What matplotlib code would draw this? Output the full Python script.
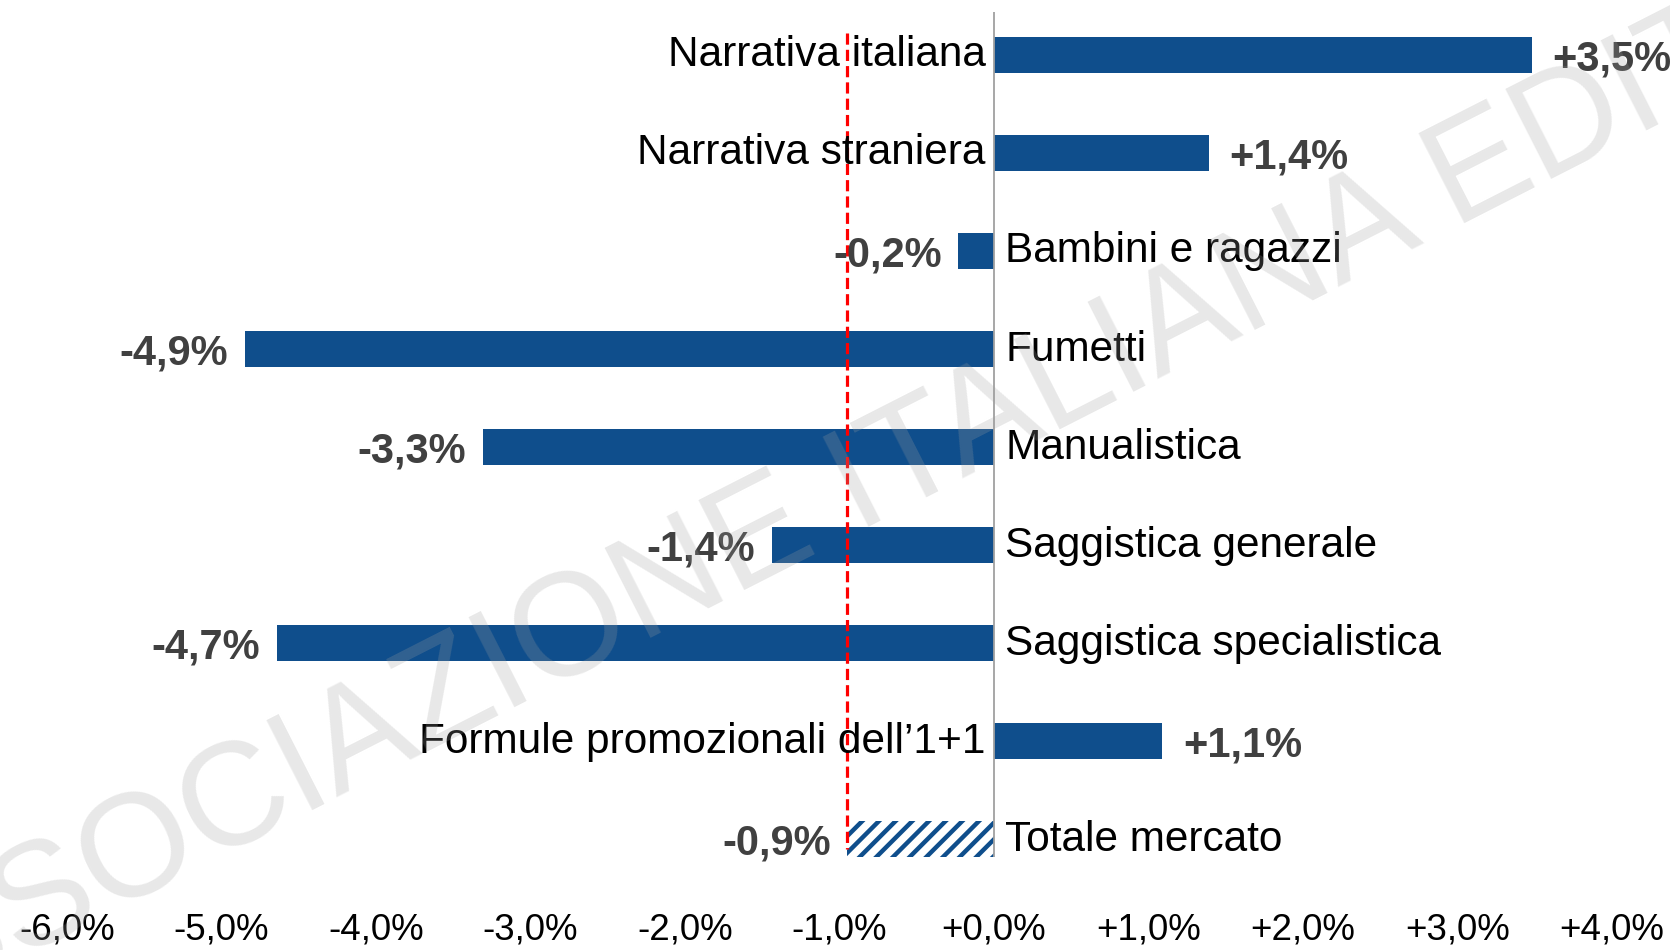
import numpy as np
import matplotlib.pyplot as plt

plt.rcParams['font.family'] = ['Liberation Sans', 'DejaVu Sans']
plt.rcParams['hatch.linewidth'] = 3.2

# --- Data (variazione % a valore) ---
categories = ["Narrativa italiana", "Narrativa straniera", "Bambini e ragazzi",
              "Fumetti", "Manualistica", "Saggistica generale",
              "Saggistica specialistica", "Formule promozionali dell\u20191+1",
              "Totale mercato"]
values = [3.48, 1.39, -0.23, -4.85, -3.31, -1.44, -4.64, 1.09, -0.95]
value_labels = ["+3,5%", "+1,4%", "-0,2%", "-4,9%", "-3,3%", "-1,4%",
                "-4,7%", "+1,1%", "-0,9%"]
total_value = -0.95
x_ticks = [-6, -5, -4, -3, -2, -1, 0, 1, 2, 3, 4]
x_ticklabels = ["-6,0%", "-5,0%", "-4,0%", "-3,0%", "-2,0%", "-1,0%",
                "+0,0%", "+1,0%", "+2,0%", "+3,0%", "+4,0%"]

blue = '#0F4E8C'

fig = plt.figure(figsize=(16.7, 9.5), dpi=100)
ax = fig.add_axes([0.0401, 0.0979, 0.9252, 0.8895])

y = np.arange(len(categories))
n = len(categories)

# normal bars
ax.barh(y[:-1], values[:-1], height=0.37, color=blue, zorder=2)
# total bar, hatched
ax.barh(y[-1], values[-1], height=0.37, color='white', edgecolor=blue,
        hatch='//', linewidth=0, zorder=2)

ax.set_xlim(-6, 4)
ax.set_ylim(n - 1 + 0.18, -0.44)

# zero line and total reference line
ax.axvline(0, color='#a0a0a0', linewidth=1.3, zorder=3)
ax.vlines(total_value, -0.23, n - 1 + 0.1, color='red', linewidth=2.3,
          linestyles=(0, (3.5, 1.6)), zorder=3)

# labels
for yi, v, cat, lab in zip(y, values, categories, value_labels):
    if v >= 0:
        ax.annotate(cat, (0, yi), xytext=(-6, 3), textcoords='offset points',
                    ha='right', va='center_baseline', fontsize=30.5, color='black', zorder=4)
        ax.annotate(lab, (v, yi), xytext=(15, 0), textcoords='offset points',
                    ha='left', va='center_baseline', fontsize=30, fontweight='bold',
                    color='#404040', zorder=4)
    else:
        ax.annotate(cat, (0, yi), xytext=(8, 3), textcoords='offset points',
                    ha='left', va='center_baseline', fontsize=30.5, color='black', zorder=4)
        ax.annotate(lab, (v, yi), xytext=(-12, 0), textcoords='offset points',
                    ha='right', va='center_baseline', fontsize=30, fontweight='bold',
                    color='#404040', zorder=4)

ax.set_xticks(x_ticks)
ax.set_xticklabels(x_ticklabels, fontsize=26.5)
ax.tick_params(axis='x', length=0, pad=40)
ax.set_yticks([])
for s in ax.spines.values():
    s.set_visible(False)

# watermark
fig.text(0.536, 0.505, "ASSOCIAZIONE ITALIANA EDITORI", fontsize=105,
         color='#a0a0a0', alpha=0.24, rotation=27, rotation_mode='anchor',
         ha='center', va='center')

plt.savefig("out.png", dpi=100)
